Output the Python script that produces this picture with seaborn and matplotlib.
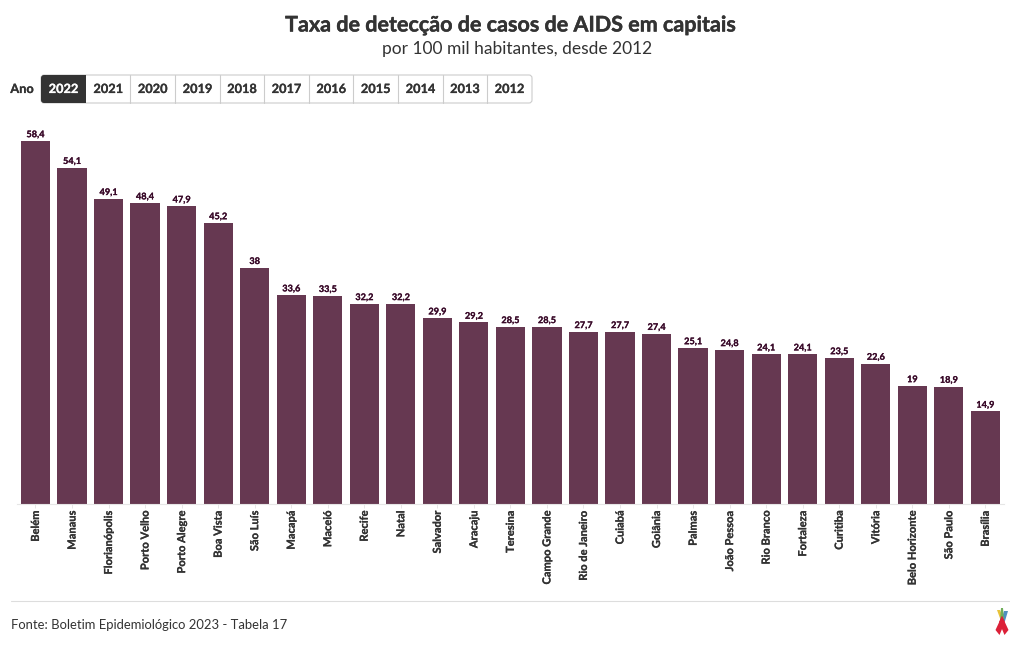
import matplotlib.pyplot as plt
import matplotlib.patheffects as pe
import seaborn as sns
import pandas as pd
from matplotlib.patches import Rectangle, FancyBboxPatch, Polygon

# Data
capitais = ['Belém', 'Manaus', 'Florianópolis', 'Porto Velho', 'Porto Alegre', 'Boa Vista', 'São Luís',
            'Macapá', 'Maceió', 'Recife', 'Natal', 'Salvador', 'Aracaju', 'Teresina', 'Campo Grande',
            'Rio de Janeiro', 'Cuiabá', 'Goiânia', 'Palmas', 'João Pessoa', 'Rio Branco', 'Fortaleza',
            'Curitiba', 'Vitória', 'Belo Horizonte', 'São Paulo', 'Brasília']
taxas = [58.4, 54.1, 49.1, 48.4, 47.9, 45.2, 38, 33.6, 33.5, 32.2, 32.2, 29.9, 29.2, 28.5, 28.5,
         27.7, 27.7, 27.4, 25.1, 24.8, 24.1, 24.1, 23.5, 22.6, 19, 18.9, 14.9]
anos = ['2022', '2021', '2020', '2019', '2018', '2017', '2016', '2015', '2014', '2013', '2012']

W, H = 1020, 650
DARK = '#333333'
sns.set_theme(style='white')
plt.rcParams['font.family'] = ['Lato', 'DejaVu Sans']


# small bold text comes out thin, thicken it a little
def thick(color, lw=0.15):
    return [pe.withStroke(linewidth=lw, foreground=color)]


df = pd.DataFrame({'capital': capitais, 'taxa': taxas})
fig = plt.figure(figsize=(W / 100, H / 100), dpi=100)

# Bars
left, right, top, base = 17.2, 1003.6, 131, 504
ax = fig.add_axes([left / W, 1 - base / H, (right - left) / W, (base - top) / H])
sns.barplot(data=df, x='capital', y='taxa', color='#663851', saturation=1, width=0.8, linewidth=0, ax=ax)
ax.set_xlim(-0.5, len(capitais) - 0.5)
ax.set_ylim(0, 60)
ax.set_xlabel('')
ax.set_ylabel('')
ax.set_yticks([])
for s in ['top', 'left', 'right']:
    ax.spines[s].set_visible(False)
ax.spines['bottom'].set_color('#e6e6e6')
ax.spines['bottom'].set_linewidth(0.8)
ax.tick_params(axis='x', length=3, width=0.7, color='#e6e6e6', pad=1.5, bottom=True)
ax.set_xticks(range(len(capitais)))
ax.set_xticklabels(capitais, rotation=90, fontsize=8, fontweight='bold', color=DARK,
                   path_effects=thick(DARK))

for i, v in enumerate(taxas):
    ax.text(i, v + 0.28, str(v).replace('.', ','), ha='center', va='bottom', fontsize=6.6,
            fontweight='bold', color='#3a0b2a', clip_on=False, path_effects=thick('#3a0b2a'))

# Title, buttons, footer drawn on a pixel overlay
ov = fig.add_axes([0, 0, 1, 1], facecolor='none')
ov.set_xlim(0, W)
ov.set_ylim(H, 0)
ov.axis('off')

ov.text(510, 25, 'Taxa de detecção de casos de AIDS em capitais', ha='center', va='center',
        fontsize=15.5, fontweight='bold', color=DARK, path_effects=thick(DARK, 0.3))
ov.text(517.5, 49, 'por 100 mil habitantes, desde 2012', ha='center', va='center', fontsize=12.5,
        color=DARK)

ov.text(22, 89, 'Ano', ha='center', va='center', fontsize=9.2, fontweight='bold', color=DARK,
        path_effects=thick(DARK))
edges = [41, 86, 130.5, 175, 220, 264, 309, 353.5, 398, 443, 487, 532]
ov.add_patch(FancyBboxPatch((41, 75), 491, 28, boxstyle='round,pad=0,rounding_size=3',
                            fc='white', ec='#cccccc', lw=0.8))
for x in edges[2:-1]:
    ov.plot([x, x], [75, 103], color='#cccccc', lw=0.8)
ov.add_patch(FancyBboxPatch((41, 75), 20, 28, boxstyle='round,pad=0,rounding_size=3',
                            fc=DARK, ec='none', lw=0))
ov.add_patch(Rectangle((50, 75), 36, 28, fc=DARK, ec='none', lw=0))
for i, ano in enumerate(anos):
    cor = 'white' if i == 0 else DARK
    ov.text((edges[i] + edges[i + 1]) / 2, 89, ano, ha='center', va='center', fontsize=9.2,
            fontweight='bold', color=cor, path_effects=thick(cor))

ov.plot([11, 1009], [600.5, 600.5], color='#dddddd', lw=0.8)
ov.text(11, 625, 'Fonte: Boletim Epidemiológico 2023 - Tabela 17', ha='left', va='center',
        fontsize=9.4, color=DARK)

# Ribbon logo
ov.add_patch(Polygon([(997, 610), (1001, 621), (1004, 621), (1000, 610)], fc='#e8c33a', lw=0))
ov.add_patch(Polygon([(1008, 611), (1005, 621), (1001, 621), (1004, 611)], fc='#4f8fc0', lw=0))
ov.add_patch(Polygon([(1001, 608), (1003, 608), (1004, 620), (1000, 620)], fc='#6fae5a', lw=0))
ov.add_patch(Polygon([(995.5, 630), (1002, 616), (1005, 622), (999.5, 635)], fc='#dc2038', lw=0))
ov.add_patch(Polygon([(1008.5, 630), (1002, 616), (999, 622), (1004.5, 635)], fc='#dc2038', lw=0))

fig.savefig('out.png', dpi=100, facecolor='white')
plt.close()
